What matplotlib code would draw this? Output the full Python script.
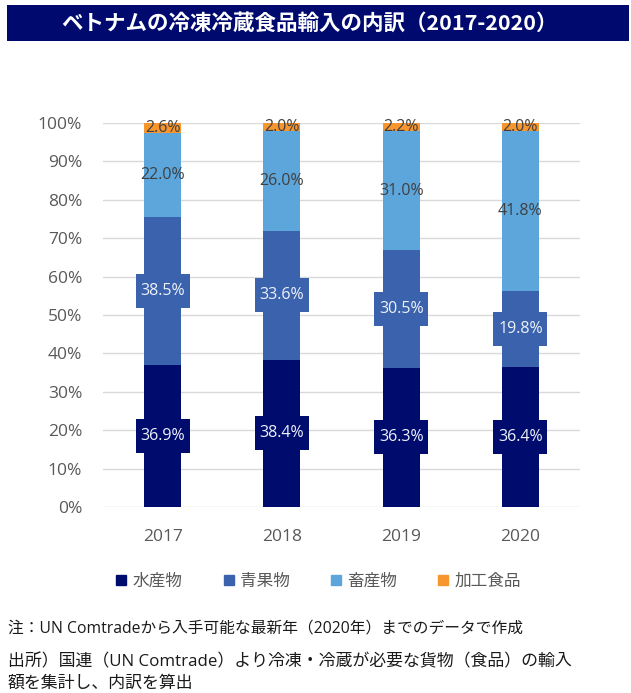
import matplotlib
matplotlib.use('Agg')
import matplotlib.pyplot as plt
from matplotlib.patches import Rectangle
from matplotlib.lines import Line2D
import numpy as np

# ---- data ----
years = ['2017', '2018', '2019', '2020']
series_names = ['水産物', '青果物', '畜産物', '加工食品']
suisan = [36.9, 38.4, 36.3, 36.4]
seika = [38.5, 33.6, 30.5, 19.8]
chikusan = [22.0, 26.0, 31.0, 41.8]
kakou = [2.6, 2.0, 2.2, 2.0]
yticks = [0, 10, 20, 30, 40, 50, 60, 70, 80, 90, 100]
ytick_labels = [f'{v}%' for v in yticks]
title = 'ベトナムの冷凍冷蔵食品輸入の内訳（2017-2020）'
note1 = '注：UN Comtradeから入手可能な最新年（2020年）までのデータで作成'
note2 = '出所）国連（UN Comtrade）より冷凍・冷蔵が必要な貨物（食品）の輸入'
note3 = '額を集計し、内訳を算出'

colors = ['#000b6e', '#3a62ad', '#5ca6dc', '#f7962f']
label_colors = ['#eef2f8', '#eef2f8', '#404040', '#404040']
boxed = [True, True, False, False]

plt.rcParams['font.family'] = ['Open Sans', 'Noto Sans CJK JP', 'DejaVu Sans']

W, H = 631, 693
fig = plt.figure(figsize=(W / 100, H / 100), dpi=100)
fig.patch.set_facecolor('white')

# title bar
fig.patches.append(Rectangle((7 / W, 1 - 41 / H), (629 - 7) / W, 36 / H,
                             transform=fig.transFigure, facecolor='#00096e',
                             edgecolor='none', zorder=0))
fig.text(310 / W, 1 - 23 / H, title, color='white', fontsize=15.5, fontweight='bold',
         ha='center', va='center', family=['Noto Sans CJK JP', 'DejaVu Sans'])

ax = fig.add_axes([103 / W, 1 - 507 / H, (580 - 103) / W, (507 - 123) / H])
x = np.arange(len(years))
bar_w = 37 / 119.25
box_w = 54 / 119.25
px_per_unit = (507 - 123) / 100.0
box_h = 34 / px_per_unit

data = [suisan, seika, chikusan, kakou]
bottom = np.zeros(len(years))
for k, vals in enumerate(data):
    vals = np.array(vals)
    ax.bar(x, vals, bar_w, bottom=bottom, color=colors[k], zorder=2,
           label=series_names[k])
    for i in range(len(years)):
        cy = bottom[i] + vals[i] / 2
        if boxed[k]:
            ax.add_patch(Rectangle((x[i] - box_w / 2, cy - box_h / 2), box_w, box_h,
                                   facecolor=colors[k], edgecolor='none', zorder=3))
        ax.text(x[i], cy, f'{vals[i]:.1f}%', ha='center', va='center',
                color=label_colors[k], fontsize=11.5, zorder=4)
    bottom = bottom + vals

ax.set_xlim(-0.5, len(years) - 0.5)
ax.set_ylim(0, 100)
ax.set_yticks(yticks)
ax.set_yticklabels(ytick_labels)
ax.set_xticks(x)
ax.set_xticklabels(years)
ax.tick_params(axis='y', length=0, pad=15, labelsize=12.5, labelcolor='#595959')
ax.tick_params(axis='x', length=0, pad=16, labelsize=12.5, labelcolor='#595959')
for s in ax.spines.values():
    s.set_visible(False)
ax.yaxis.grid(True, color='#d9d9d9', linewidth=1)
ax.set_axisbelow(True)

handles = [Line2D([], [], marker='s', linestyle='none', markersize=7,
                  markerfacecolor=c, markeredgecolor=c) for c in colors]
fig.legend(handles, series_names, loc='center', bbox_to_anchor=(318 / W, 1 - 581 / H),
           ncol=4, frameon=False, handlelength=0.8, handletextpad=0.3,
           columnspacing=2.35, prop={'size': 12, 'family': ['Noto Sans CJK JP']},
           labelcolor='#595959')

fig.text(8 / W, 1 - 628 / H, note1, fontsize=11.3, color='#1a1a1a', ha='left', va='center')
fig.text(8 / W, 1 - 662 / H, note2, fontsize=12.2, color='#1a1a1a', ha='left', va='center')
fig.text(8 / W, 1 - 684 / H, note3, fontsize=12.2, color='#1a1a1a', ha='left', va='center')

fig.savefig('out.png', dpi=100)
